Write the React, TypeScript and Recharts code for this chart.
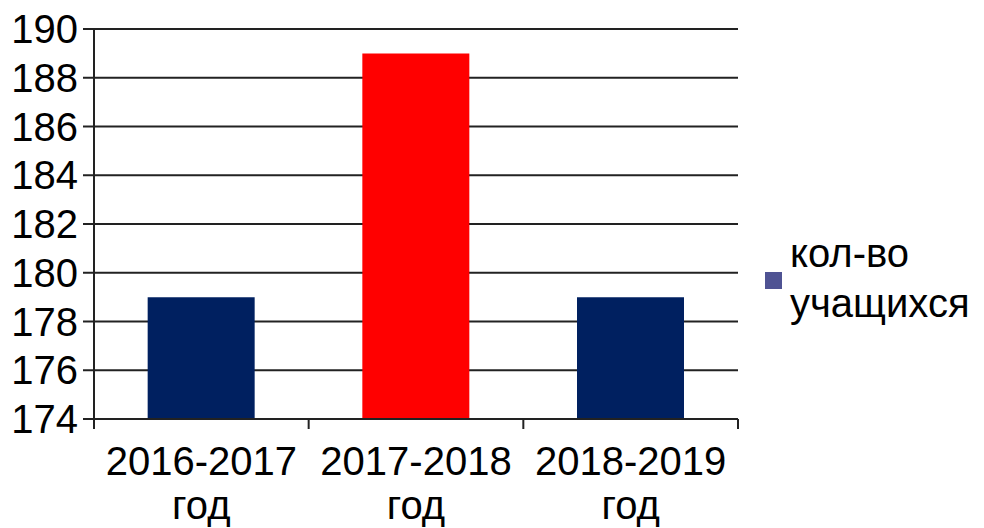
import { BarChart, Bar, XAxis, YAxis, CartesianGrid, Cell } from "recharts";

const categories = ["2016-2017 год", "2017-2018 год", "2018-2019 год"];
const students = [179, 189, 179];
const barColors = ["#002060", "#FF0000", "#002060"];
const yTicks = [174, 176, 178, 180, 182, 184, 186, 188, 190];
const seriesName = "кол-во учащихся";

const data = categories.map((name, i) => ({ name, value: students[i] }));

const FONT = '"Liberation Sans", Arial, sans-serif';

// category label in two lines, plus tick marks on the band edges (not centre)
function CategoryTick({ x, y, payload, index, visibleTicksCount }: any) {
  const [first, second] = String(payload.value).split(" ");
  const half = payload.offset ?? 0;
  const last = index === (visibleTicksCount ?? categories.length) - 1;
  return (
    <g>
      <line x1={x - half} x2={x - half} y1={y} y2={y + 10} stroke="#222" strokeWidth={2} />
      {last && <line x1={x + half} x2={x + half} y1={y} y2={y + 10} stroke="#222" strokeWidth={2} />}
      <text x={x} y={y} textAnchor="middle" fill="#000" fontSize={40} fontFamily={FONT}>
        <tspan x={x} dy={56}>{first}</tspan>
        <tspan x={x} dy={44}>{second}</tspan>
      </text>
    </g>
  );
}

export default function App() {
  return (
    <div style={{ position: "absolute", left: 0, top: 0, width: 984, height: 528, background: "#fff", fontFamily: FONT }}>
      <BarChart
        width={984}
        height={528}
        data={data}
        margin={{ top: 29, right: 246, left: 0, bottom: 0 }}
        barCategoryGap="25%"
      >
        <CartesianGrid horizontal vertical={false} stroke="#222" strokeWidth={2} />
        <XAxis
          dataKey="name"
          height={109}
          axisLine={{ stroke: "#222", strokeWidth: 2 }}
          tickLine={false}
          tickSize={0}
          tickMargin={0}
          tick={<CategoryTick />}
          interval={0}
        />
        <YAxis
          width={94}
          domain={[174, 190]}
          ticks={yTicks}
          interval={0}
          allowDataOverflow
          tickSize={11}
          tickMargin={5}
          tick={{ fill: "#000", fontSize: 40, fontFamily: FONT }}
          tickLine={{ stroke: "#222", strokeWidth: 2 }}
          axisLine={{ stroke: "#222", strokeWidth: 2 }}
        />
        <Bar dataKey="value" name={seriesName} isAnimationActive={false}>
          {data.map((_, i) => (
            <Cell key={i} fill={barColors[i]} />
          ))}
        </Bar>
      </BarChart>
      <div style={{ position: "absolute", left: 765, top: 228, fontSize: 40, lineHeight: "50px", color: "#000" }}>
        <div style={{ position: "absolute", left: 0, top: 44, width: 17, height: 17, background: "#4F5393" }} />
        <div style={{ position: "absolute", left: 25, top: 0, whiteSpace: "nowrap" }}>
          кол-во
          <br />
          учащихся
        </div>
      </div>
    </div>
  );
}
